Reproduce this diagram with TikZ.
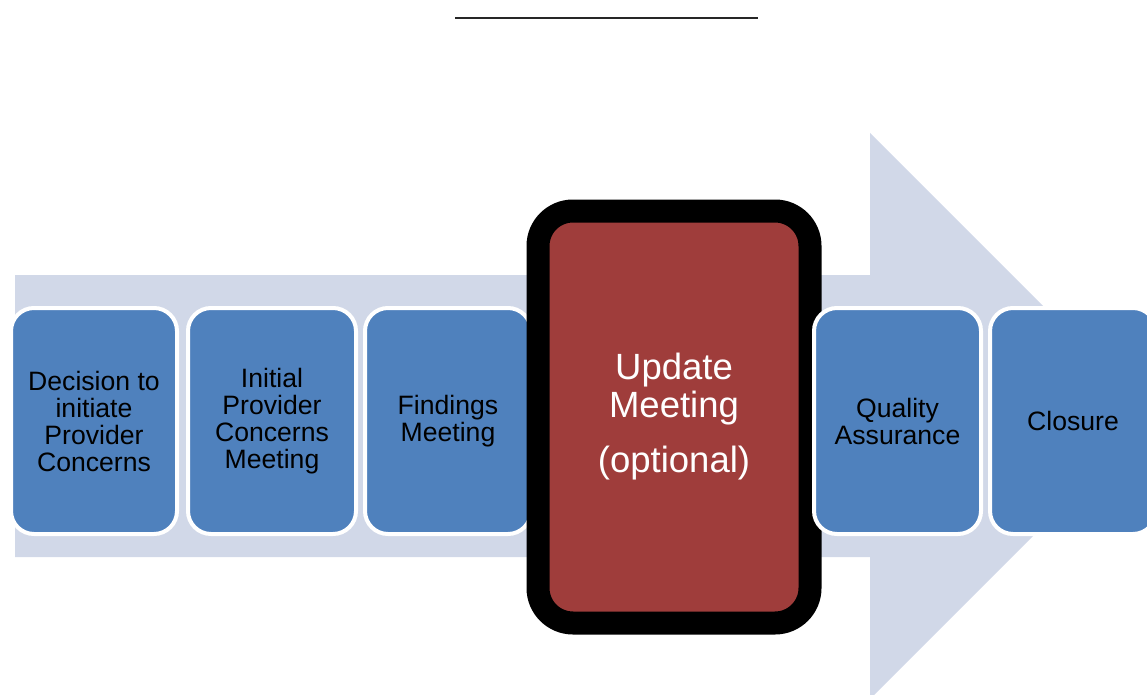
\documentclass[tikz,border=0pt]{standalone}
\usepackage{fontspec}
\setmainfont{Liberation Sans}
\usepackage{tikz}
\usetikzlibrary{positioning}
\definecolor{stageblue}{RGB}{79,129,189}
\definecolor{shaftgray}{RGB}{209,216,232}
\definecolor{focusred}{RGB}{159,61,59}
\tikzset{
  every picture/.append style={line width=0.6pt},
}
\tikzset{
  stage/.style={rectangle, rounded corners=23pt, draw=white, line width=4pt, fill=stageblue,
                minimum width=166pt, minimum height=226pt, inner sep=2pt, align=center,
                font=\fontsize{26.6}{27}\selectfont},
  focus/.style={rectangle, rounded corners=35pt, draw=black, line width=23pt, fill=focusred,
                minimum width=272pt, minimum height=412pt, align=center, text=white,
                font=\fontsize{36.5}{38}\selectfont}
}

\begin{document}
\begin{tikzpicture}[x=1pt, y=-1pt]
\useasboundingbox (0,0) rectangle (1147,695);
\clip (0,0) rectangle (1147,695);

% ============= Title rule =============
\coordinate (ruleL) at (455,18);
\coordinate (ruleR) at (758,18);
\draw[line width=1.5pt, black!85] (ruleL) -- (ruleR);

% ============= Process arrow =============
\fill[shaftgray] (15,275) -- (870,275) -- (870,133) -- (1153,416)
  -- (870,699) -- (870,557) -- (15,557) -- cycle;

% ============= Stages =============
\node[stage] (decide) at (94,421) {Decision to\\initiate\\Provider\\Concerns};
\node[stage, minimum width=168pt, right=7pt of decide] (initial) {Initial\\Provider\\Concerns\\Meeting};
\node[stage, right=5pt of initial] (findings) {Findings\\Meeting};

% highlighted stage
\node[focus] (update) at (674,417) {Update\\Meeting\\[17pt](optional)};

\node[stage, minimum width=167pt] (quality) at (897.5,421) {Quality\\Assurance};
\node[stage, right=5pt of quality] (closure) {Closure};

\end{tikzpicture}
\end{document}
